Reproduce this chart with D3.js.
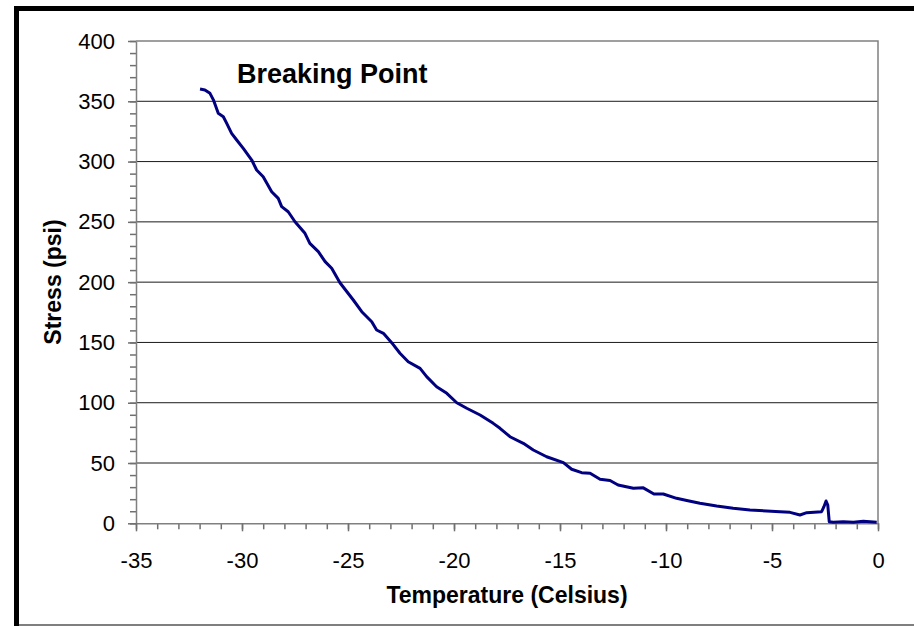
<!DOCTYPE html>
<html>
<head>
<meta charset="utf-8">
<script src="https://cdn.jsdelivr.net/npm/d3@7"></script>
<style>
  body { margin: 0; background: #fff; }
  svg text { font-family: Arial, "Liberation Sans", sans-serif; }
</style>
</head>
<body>
<svg id="chart"></svg>
<script>
// ------ données ------
var temperature = [-31.98, -31.75, -31.51, -31.35, -31.12, -30.88, -30.72, -30.49, -30.25, -29.94,
  -29.54, -29.31, -29.0, -28.6, -28.29, -28.13, -27.82, -27.5, -27.03, -26.8,
  -26.4, -26.08, -25.77, -25.38, -24.75, -24.35, -23.88, -23.65, -23.33, -22.94,
  -22.55, -22.16, -21.6, -21.29, -20.82, -20.34, -19.87, -19.4, -18.77, -18.15,
  -17.83, -17.36, -16.73, -16.26, -15.63, -14.84, -14.45, -13.98, -13.58, -13.11,
  -12.64, -12.26, -11.54, -11.07, -10.57, -10.13, -9.5, -9.02, -8.4, -7.61,
  -6.83, -6.04, -5.25, -4.62, -4.15, -3.68, -3.36, -2.66, -2.55, -2.45,
  -2.37, -2.3, -2.11, -1.64, -1.16, -0.69, -0.06];
var stress = [360.2, 359.4, 356.6, 351.2, 340.0, 337.2, 331.7, 323.4, 317.9, 311.0,
  301.3, 293.0, 287.4, 275.0, 269.5, 262.6, 258.4, 250.1, 240.5, 232.2,
  225.3, 217.0, 211.5, 199.5, 185.2, 175.5, 167.2, 160.3, 157.6, 149.8,
  141.0, 134.0, 128.5, 121.6, 113.3, 107.8, 100.0, 95.4, 89.8, 82.9,
  78.8, 71.8, 66.3, 60.8, 55.2, 50.3, 44.8, 42.0, 41.5, 36.5,
  35.5, 31.8, 29.0, 29.4, 24.3, 24.3, 20.7, 18.9, 16.6, 14.3,
  12.4, 11.0, 10.2, 9.6, 9.1, 6.9, 8.8, 9.6, 13.8, 18.5,
  15.2, 1.3, 0.8, 1.3, 0.8, 1.7, 0.8];

var xMajor = d3.range(-35, 0.1, 5);
var xMinor = d3.range(-35, 0.1, 1);
var yMajor = d3.range(0, 401, 50);
var yMinor = d3.range(0, 401, 10);

var titre = "Breaking Point";
var titreX = "Temperature (Celsius)";
var titreY = "Stress (psi)";

// ------ cadre ------
var width = 914, height = 626;
var svg = d3.select("#chart").attr("width", width).attr("height", height);

// bordure du graphique (ombre noire en haut et à gauche)
svg.append("line").attr("x1", 19).attr("x2", width).attr("y1", 625).attr("y2", 625)
  .attr("stroke", "#555").attr("stroke-width", 1.5);
svg.append("rect").attr("x", 14).attr("y", 6).attr("width", 5).attr("height", height - 6).attr("fill", "#000");
svg.append("rect").attr("x", 14).attr("y", 6).attr("width", width - 14).attr("height", 5).attr("fill", "#000");

var pLeft = 136, pRight = 878, pTop = 41, pBottom = 523.3;

var x = d3.scaleLinear().domain([-35, 0]).range([pLeft, pRight]);
var y = d3.scaleLinear().domain([0, 400]).range([pBottom, pTop]);

// lignes de grille
svg.append("g").selectAll("line")
  .data(yMajor.filter(d => d > 0 && d < 400))
  .enter().append("line")
  .attr("x1", pLeft).attr("x2", pRight)
  .attr("y1", d => y(d)).attr("y2", d => y(d))
  .attr("stroke", "#1a1a1a").attr("stroke-width", 1);

// bord du cadre de tracé
svg.append("path")
  .attr("d", `M${pLeft},${pTop}H${pRight}V${pBottom}`)
  .attr("fill", "none").attr("stroke", "#808080").attr("stroke-width", 1.5);

// axes : graduations mineures
svg.append("g").attr("transform", `translate(${pLeft},0)`)
  .call(d3.axisLeft(y).tickValues(yMinor).tickSize(6).tickFormat(""))
  .call(g => g.select(".domain").remove())
  .selectAll("line").attr("stroke", "#707070").attr("stroke-width", 1.5);
svg.append("g").attr("transform", `translate(0,${pBottom})`)
  .call(d3.axisBottom(x).tickValues(xMinor).tickSize(6).tickFormat(""))
  .call(g => g.select(".domain").remove())
  .selectAll("line").attr("stroke", "#707070").attr("stroke-width", 1.5);

// axes : graduations majeures
var yAxis = svg.append("g").attr("transform", `translate(${pLeft},0)`)
  .call(d3.axisLeft(y).tickValues(yMajor).tickSize(8).tickSizeOuter(0).tickPadding(13));
var xAxis = svg.append("g").attr("transform", `translate(0,${pBottom})`)
  .call(d3.axisBottom(x).tickValues(xMajor).tickSize(8).tickSizeOuter(0).tickPadding(21));

[yAxis, xAxis].forEach(function (ax) {
  ax.select(".domain").attr("stroke", "#808080").attr("stroke-width", 1.5);
  ax.selectAll(".tick line").attr("stroke", "#707070").attr("stroke-width", 1.5);
  ax.selectAll(".tick text").attr("fill", "#000")
    .style("font-size", "22px").style("font-family", "Arial, 'Liberation Sans', sans-serif");
});
// signe moins en tiret simple
xAxis.selectAll(".tick text").text(d => String(d));

// courbe
var line = d3.line().x(d => x(d[0])).y(d => y(d[1]));
svg.append("path")
  .datum(d3.zip(temperature, stress))
  .attr("d", line)
  .attr("fill", "none")
  .attr("stroke", "#000080")
  .attr("stroke-width", 3)
  .attr("stroke-linejoin", "round");

// textes
svg.append("text").attr("x", 237).attr("y", 83)
  .style("font-size", "27px").style("font-weight", "bold").text(titre);

svg.append("text").attr("x", (pLeft + pRight) / 2).attr("y", 603)
  .attr("text-anchor", "middle")
  .style("font-size", "23px").style("font-weight", "bold").text(titreX);

svg.append("text").attr("transform", "translate(61,282) rotate(-90)")
  .attr("text-anchor", "middle")
  .style("font-size", "23px").style("font-weight", "bold").text(titreY);
</script>
</body>
</html>
